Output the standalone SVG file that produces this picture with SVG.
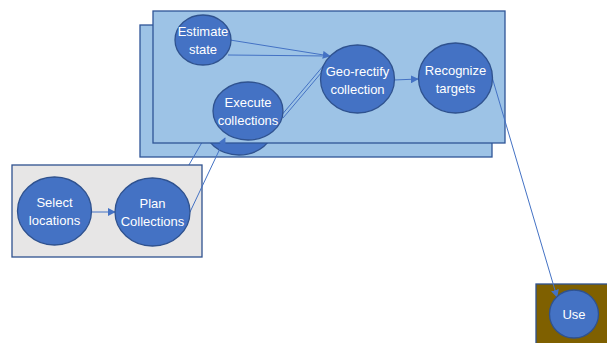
<svg xmlns="http://www.w3.org/2000/svg" width="607" height="343" viewBox="0 0 607 343">
<defs>
<style>
.panel{fill:#9DC3E6;stroke:#2F5597;stroke-width:1.3}
.node{fill:#4472C4;stroke:#2F528F;stroke-width:1.3}
.lbl{font-family:"Liberation Sans",Arial,sans-serif;font-size:13px;fill:#FFFFFF;text-anchor:middle}
.c{fill:none;stroke:#4472C4;stroke-width:1}
</style>
<marker id="ah" viewBox="0 0 10 10" refX="9" refY="5" markerWidth="8" markerHeight="8" markerUnits="userSpaceOnUse" orient="auto">
<path d="M0,0 L10,5 L0,10 z" fill="#4472C4"/>
</marker>
</defs>
<rect width="607" height="343" fill="#FFFFFF"/>
<g id="back-layer">
<rect class="panel" x="140" y="25" width="352" height="132"/>
<ellipse class="node" cx="239" cy="126" rx="35" ry="29"/>
</g>
<g id="connectors-hidden">
<line class="c" x1="186" y1="170" x2="212" y2="125"/>
</g>
<g id="front-layer">
<rect class="panel" x="153" y="11" width="352" height="132"/>
</g>
<g id="planning-panel">
<rect x="12" y="165" width="190" height="92" fill="#E7E6E6" stroke="#2F528F" stroke-width="1.3"/>
</g>
<g id="use-panel">
<rect x="536" y="284" width="75" height="65" fill="#7F6000" stroke="#2F528F" stroke-width="1.3"/>
</g>
<g id="connectors">
<line class="c" x1="92" y1="212" x2="115" y2="212" marker-end="url(#ah)"/>
<line class="c" x1="190" y1="212" x2="225" y2="138" marker-end="url(#ah)"/>
<line class="c" x1="230" y1="40" x2="330" y2="56" marker-end="url(#ah)"/>
<line class="c" x1="228" y1="55" x2="328" y2="56"/>
<line class="c" x1="280" y1="117" x2="324" y2="65"/>
<line class="c" x1="283" y1="118" x2="327" y2="66"/>
<line class="c" x1="394" y1="80" x2="418" y2="79" marker-end="url(#ah)"/>
<line class="c" x1="492" y1="77" x2="557" y2="297" marker-end="url(#ah)"/>
</g>
<g id="estimate-state">
<ellipse class="node" cx="203" cy="40" rx="28" ry="25"/>
<text class="lbl" x="203" y="36">Estimate</text>
<text class="lbl" x="203" y="54">state</text>
</g>
<g id="execute-collections">
<ellipse class="node" cx="248" cy="111" rx="35" ry="29"/>
<text class="lbl" x="248" y="107">Execute</text>
<text class="lbl" x="248" y="125">collections</text>
</g>
<g id="geo-rectify">
<ellipse class="node" cx="357.5" cy="79" rx="37" ry="34"/>
<text class="lbl" x="357.5" y="76">Geo-rectify</text>
<text class="lbl" x="357.5" y="94">collection</text>
</g>
<g id="recognize-targets">
<ellipse class="node" cx="455.5" cy="78" rx="37" ry="35"/>
<text class="lbl" x="455.5" y="75">Recognize</text>
<text class="lbl" x="455.5" y="93">targets</text>
</g>
<g id="select-locations">
<ellipse class="node" cx="54.5" cy="211" rx="37" ry="34"/>
<text class="lbl" x="54.5" y="207">Select</text>
<text class="lbl" x="54.5" y="225">locations</text>
</g>
<g id="plan-collections">
<ellipse class="node" cx="152.5" cy="212" rx="37.5" ry="34"/>
<text class="lbl" x="152.5" y="208">Plan</text>
<text class="lbl" x="152.5" y="226">Collections</text>
</g>
<g id="use">
<ellipse class="node" cx="574" cy="314" rx="24.5" ry="24"/>
<text class="lbl" x="574" y="319">Use</text>
</g>
</svg>
